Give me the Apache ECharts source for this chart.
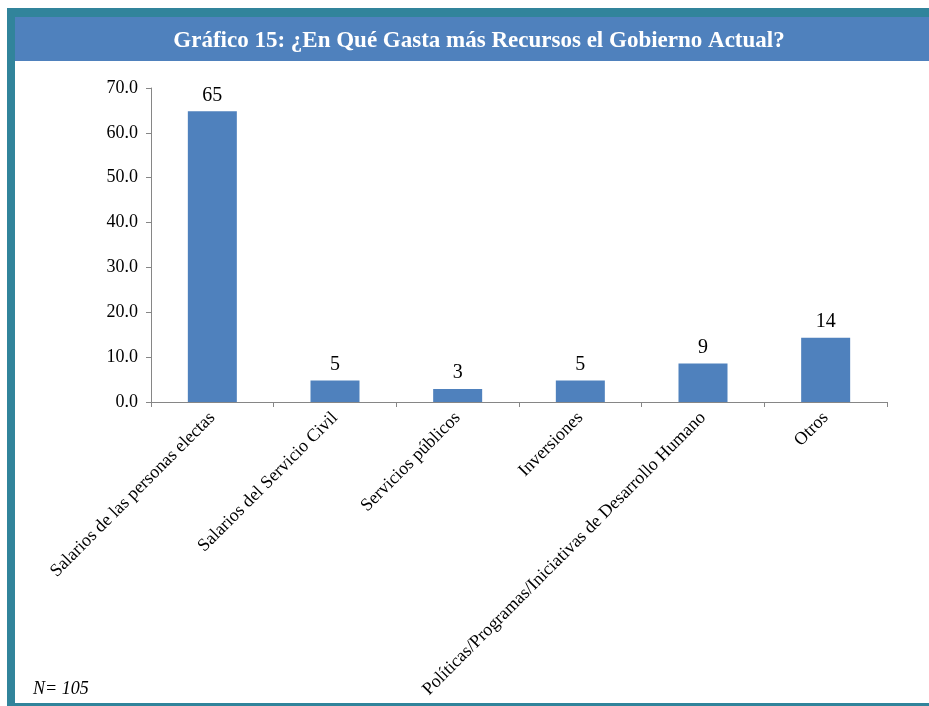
<!DOCTYPE html>
<html>
<head>
<meta charset="utf-8">
<script src="https://cdn.jsdelivr.net/npm/echarts@6/dist/echarts.min.js"></script>
<style>
  html, body { margin: 0; padding: 0; background: #fff; }
  #chart { width: 929px; height: 706px; }
</style>
</head>
<body>
<div id="chart"></div>
<script>
  // categorías y porcentajes (N = 105)
  const categories = [
    'Salarios de las personas electas',
    'Salarios del Servicio Civil',
    'Servicios públicos',
    'Inversiones',
    'Políticas/Programas/Iniciativas de Desarrollo Humano',
    'Otros'
  ]
  const percentages = [64.8, 4.8, 2.9, 4.8, 8.6, 14.3]
  const yTicks = [0, 10, 20, 30, 40, 50, 60, 70]

  const serif = '"Liberation Serif", "Times New Roman", serif'
  const axisGrey = '#868686'
  const barBlue = '#4F81BD'
  const frameTeal = '#31849B'

  const chart = echarts.init(document.getElementById('chart'))
  const option = {
    backgroundColor: '#fff',
    animation: false,
    graphic: [
      // marco exterior
      { type: 'rect', z: -10, shape: { x: 7, y: 8, width: 940, height: 698 }, style: { fill: frameTeal } },
      { type: 'rect', z: -9, shape: { x: 15, y: 17, width: 930, height: 686 }, style: { fill: '#fff' } },
      // barra del título
      { type: 'rect', z: -8, shape: { x: 15, y: 17, width: 930, height: 44 }, style: { fill: barBlue } },
      {
        type: 'text', left: 33, top: 680,
        style: { text: 'N= 105', font: 'italic 18px ' + serif, fill: '#000' }
      }
    ],
    title: {
      text: 'Gráfico 15: ¿En Qué Gasta más Recursos el Gobierno Actual?',
      left: 474,
      top: 25,
      textAlign: 'center',
      textStyle: { color: '#fff', fontFamily: serif, fontWeight: 'bold', fontSize: 23 }
    },
    grid: { left: 151, right: 42, top: 88, bottom: 304, containLabel: false },
    xAxis: {
      type: 'category',
      data: categories,
      axisLine: { lineStyle: { color: axisGrey, width: 1 } },
      axisTick: { show: true, length: 5, alignWithLabel: false, lineStyle: { color: axisGrey } },
      axisLabel: {
        interval: 0,
        rotate: 45,
        margin: 13,
        color: '#000',
        fontFamily: serif,
        fontSize: 18
      }
    },
    yAxis: {
      type: 'value',
      min: yTicks[0],
      max: yTicks[yTicks.length - 1],
      interval: 10,
      axisLine: { show: true, lineStyle: { color: axisGrey, width: 1 } },
      axisTick: { show: true, length: 5, lineStyle: { color: axisGrey } },
      splitLine: { show: false },
      axisLabel: {
        margin: 13,
        color: '#000',
        fontFamily: serif,
        fontSize: 18,
        formatter: v => v.toFixed(1)
      }
    },
    series: [
      {
        type: 'bar',
        data: percentages,
        barWidth: 49,
        itemStyle: { color: barBlue },
        label: {
          show: true,
          position: 'top',
          distance: 6,
          color: '#000',
          fontFamily: serif,
          fontSize: 20,
          formatter: p => Math.round(p.value)
        }
      }
    ]
  }
  chart.setOption(option)
</script>
</body>
</html>
